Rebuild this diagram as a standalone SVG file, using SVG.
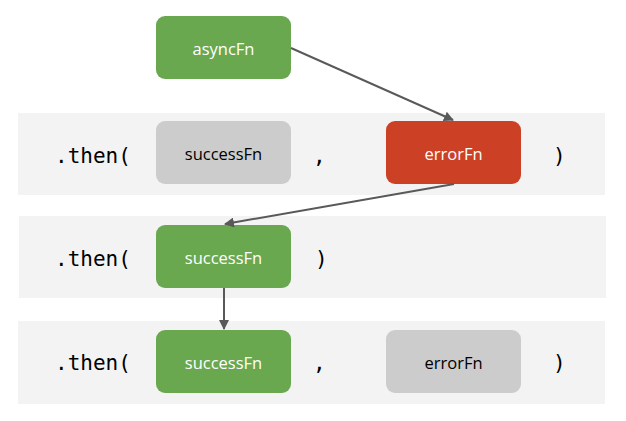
<svg xmlns="http://www.w3.org/2000/svg" width="626" height="421" viewBox="0 0 626 421">
<defs>
<marker id="ah" markerWidth="10" markerHeight="10" refX="9" refY="5" orient="auto" markerUnits="userSpaceOnUse">
<path d="M0,0 L10,5 L0,10 z" fill="#595959"/>
</marker>
<style>
.band{fill:#f3f3f3}
.green{fill:#6aa84f}
.gray{fill:#cccccc}
.red{fill:#cc4125}
.lbl{font-family:"Open Sans","Noto Sans",sans-serif;font-size:16.5px;text-anchor:middle;dominant-baseline:central}
.w{fill:#ffffff}
.k{fill:#000000}
.code{font-family:"DejaVu Sans Mono","Liberation Mono",monospace;font-size:21px;fill:#000;dominant-baseline:central}
.conn{stroke:#595959;stroke-width:2;fill:none}
</style>
</defs>
<rect x="0" y="0" width="626" height="421" fill="#ffffff"/>
<g id="bands">
<rect class="band" x="18" y="113" width="587" height="82"/>
<rect class="band" x="19" y="216" width="587" height="82"/>
<rect class="band" x="18" y="321" width="587" height="83"/>
</g>
<g id="code">
<text class="code" x="55" y="156">.then(</text>
<text class="code" x="313" y="156">,</text>
<text class="code" x="553" y="156">)</text>
<text class="code" x="55" y="259">.then(</text>
<text class="code" x="315" y="259">)</text>
<text class="code" x="55" y="363">.then(</text>
<text class="code" x="313" y="363">,</text>
<text class="code" x="553" y="363">)</text>
</g>
<g id="asyncFn">
<rect class="green" x="156" y="16" width="135" height="63" rx="9"/>
<text class="lbl w" x="223.5" y="48">asyncFn</text>
</g>
<g id="successFn1">
<rect class="gray" x="156" y="121" width="135" height="63" rx="9"/>
<text class="lbl k" x="223.5" y="153">successFn</text>
</g>
<g id="errorFn1">
<rect class="red" x="386" y="121" width="135" height="63" rx="9"/>
<text class="lbl w" x="453.5" y="153">errorFn</text>
</g>
<g id="successFn2">
<rect class="green" x="156" y="225" width="135" height="63" rx="9"/>
<text class="lbl w" x="223.5" y="257">successFn</text>
</g>
<g id="successFn3">
<rect class="green" x="156" y="330" width="135" height="63" rx="9"/>
<text class="lbl w" x="223.5" y="362">successFn</text>
</g>
<g id="errorFn3">
<rect class="gray" x="386" y="330" width="135" height="63" rx="9"/>
<text class="lbl k" x="453.5" y="362">errorFn</text>
</g>
<g id="connectors">
<line class="conn" x1="291" y1="48" x2="453" y2="120" marker-end="url(#ah)"/>
<line class="conn" x1="454" y1="184" x2="225" y2="224" marker-end="url(#ah)"/>
<line class="conn" x1="224" y1="288" x2="224" y2="329" marker-end="url(#ah)"/>
</g>
</svg>
